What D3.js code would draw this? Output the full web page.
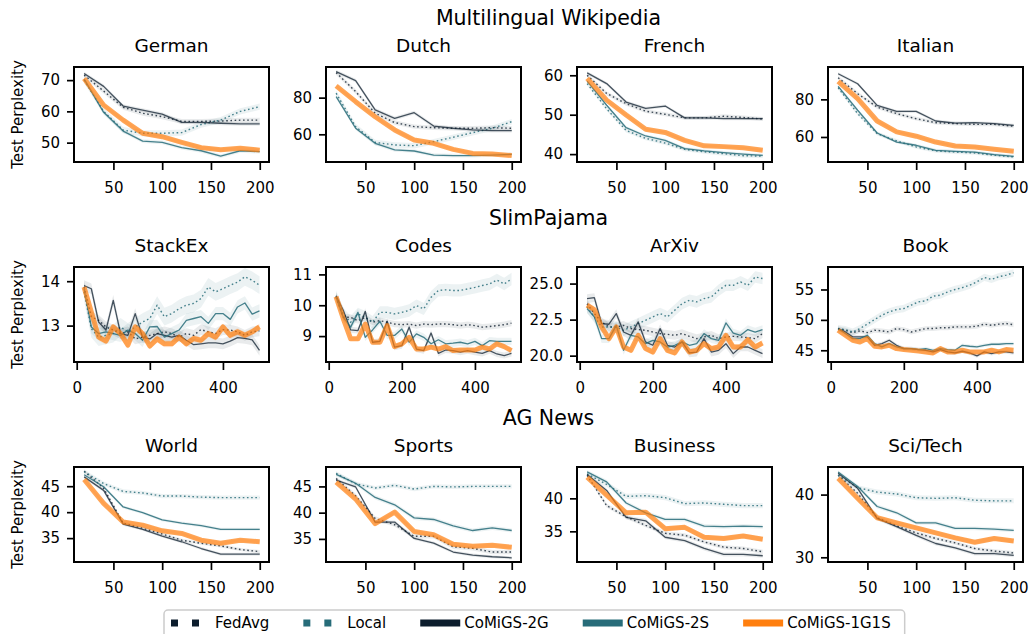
<!DOCTYPE html>
<html>
<head>
<meta charset="utf-8">
<script src="https://cdn.jsdelivr.net/npm/d3@7"></script>
<style>
  body { margin: 0; background: #fff; }
  text { font-family: "DejaVu Sans", sans-serif; fill: #000; }
</style>
</head>
<body>
<svg id="chart"></svg>
<script>
// series order in every panel array: FedAvg, Local, CoMiGS-2G, CoMiGS-2S, CoMiGS-1G1S
const seriesNames = ["FedAvg", "Local", "CoMiGS-2G", "CoMiGS-2S", "CoMiGS-1G1S"]
const rowTitles = ["Multilingual Wikipedia", "SlimPajama", "AG News"]
const panelTitles = ["German", "Dutch", "French", "Italian",
  "StackEx", "Codes", "ArXiv", "Book",
  "World", "Sports", "Business", "Sci/Tech"]

const stepsShort = [20, 40, 60, 80, 100, 120, 140, 160, 180, 200]
const stepsLong = [20, 40, 60, 80, 100, 120, 140, 160, 180, 200, 220, 240, 260,
  280, 300, 320, 340, 360, 380, 400, 420, 440, 460, 480, 500]
const xTicksShort = [50, 100, 150, 200]
const xTicksLong = [0, 200, 400]

const german = [
  [71.6, 66.5, 61.3, 59.4, 58.3, 56.8, 56.8, 56.9, 57.2, 57.2],
  [70.0, 60.0, 54.0, 53.0, 53.0, 53.2, 55.8, 57.2, 60.0, 61.5],
  [72.1, 68.0, 61.7, 60.4, 59.1, 56.5, 56.5, 56.2, 56.0, 56.0],
  [70.3, 59.7, 53.7, 50.5, 50.1, 48.4, 47.4, 45.7, 47.4, 47.1],
  [70.5, 62.0, 57.2, 53.0, 51.9, 50.1, 48.4, 47.7, 48.2, 47.6]
]
const dutch = [
  [93.6, 83.3, 71.5, 66.4, 64.2, 63.6, 63.3, 63.3, 63.6, 63.3],
  [82.4, 64.2, 55.6, 54.2, 53.8, 56.0, 58.4, 60.9, 63.3, 66.9],
  [94.2, 89.3, 73.3, 68.7, 71.8, 64.5, 63.3, 62.4, 62.0, 62.0],
  [80.5, 63.3, 55.1, 51.5, 50.9, 48.7, 48.4, 48.4, 48.7, 49.1],
  [86.4, 77.8, 69.6, 62.4, 56.9, 55.1, 51.8, 49.6, 49.3, 48.4]
]
const french = [
  [60.0, 55.4, 52.8, 50.9, 50.1, 49.2, 49.2, 49.6, 49.3, 48.9],
  [57.9, 51.5, 46.0, 44.0, 42.8, 41.2, 40.6, 40.1, 39.6, 39.5],
  [60.6, 57.9, 53.2, 51.6, 52.2, 49.2, 49.2, 49.0, 49.0, 49.0],
  [58.5, 52.4, 46.7, 44.6, 43.5, 41.4, 40.8, 40.4, 40.0, 39.7],
  [59.2, 53.7, 49.9, 46.3, 45.5, 43.5, 42.1, 41.9, 41.6, 41.0]
]
const italian = [
  [91.5, 83.0, 75.9, 72.4, 69.7, 67.6, 67.1, 66.7, 66.7, 65.7],
  [86.2, 72.4, 61.8, 57.9, 54.7, 52.6, 52.0, 51.5, 50.3, 49.4],
  [93.6, 88.3, 76.8, 73.6, 73.6, 68.5, 67.4, 67.6, 67.1, 66.2],
  [86.9, 74.2, 62.1, 57.3, 55.6, 52.9, 52.4, 52.0, 50.6, 49.7],
  [89.6, 80.4, 68.5, 62.7, 60.4, 57.3, 55.2, 54.7, 53.5, 52.4]
]
const stackEx = [
  [13.87, 13.2, 13.12, 12.97, 12.9, 12.82, 12.86, 12.7, 12.74, 12.78, 12.82, 12.86, 12.82,
    12.74, 12.82, 12.78, 12.91, 12.86, 12.82, 12.91, 12.9, 12.86, 12.78, 12.86, 12.88],
  [13.76, 12.93, 12.74, 12.78, 12.82, 12.97, 12.86, 12.97, 13.08, 13.16, 13.46, 13.2, 13.27,
    13.38, 13.46, 13.5, 13.61, 13.87, 13.76, 13.83, 13.91, 13.98, 14.1, 14.02, 13.91],
  [13.9, 13.83, 13.08, 12.9, 13.57, 12.82, 12.78, 13.27, 12.74, 12.7, 12.82, 12.78, 12.74,
    12.78, 12.67, 12.57, 12.59, 12.61, 12.61, 12.59, 12.65, 12.73, 12.71, 12.68, 12.44],
  [13.83, 12.97, 12.82, 12.86, 12.82, 12.78, 12.9, 12.82, 12.67, 12.97, 12.98, 12.74, 12.82,
    12.9, 13.12, 13.16, 13.2, 13.05, 13.27, 13.27, 13.14, 13.42, 13.51, 13.26, 13.33],
  [13.87, 13.31, 12.74, 12.65, 12.97, 12.82, 12.56, 12.97, 12.82, 12.54, 12.7, 12.59, 12.59,
    12.74, 12.59, 12.71, 12.67, 12.82, 12.74, 12.97, 12.78, 12.86, 12.78, 12.86, 12.97]
]
const codes = [
  [10.26, 9.61, 9.61, 9.5, 9.61, 9.45, 9.5, 9.45, 9.39, 9.37, 9.39, 9.34, 9.39,
    9.37, 9.39, 9.39, 9.37, 9.34, 9.37, 9.34, 9.29, 9.31, 9.34, 9.37, 9.42],
  [10.28, 9.72, 9.45, 9.72, 9.61, 9.45, 9.77, 9.77, 9.72, 9.77, 9.83, 9.99, 9.88,
    10.26, 10.48, 10.5, 10.48, 10.48, 10.53, 10.58, 10.64, 10.69, 10.82, 10.69, 10.85],
  [10.31, 9.83, 9.2, 9.18, 9.8, 8.8, 8.83, 9.48, 8.64, 8.69, 9.29, 8.58, 8.53,
    9.1, 8.44, 8.55, 8.53, 8.48, 8.53, 8.48, 8.44, 8.53, 8.42, 8.37, 8.44],
  [10.28, 9.61, 9.29, 9.77, 8.96, 9.2, 9.48, 9.02, 9.02, 9.23, 8.8, 9.07, 8.96,
    8.75, 8.88, 8.75, 8.77, 8.8, 8.75, 8.83, 8.69, 8.85, 8.83, 8.83, 8.83],
  [10.28, 9.56, 8.91, 8.91, 9.39, 8.8, 8.8, 9.34, 8.66, 8.75, 8.96, 8.58, 8.58,
    8.64, 8.58, 8.66, 8.53, 8.55, 8.55, 8.55, 8.64, 8.58, 8.75, 8.66, 8.53]
]
const arxiv = [
  [23.6, 22.92, 22.34, 21.99, 21.99, 22.1, 21.88, 21.81, 21.76, 21.64, 21.53, 21.48, 21.41,
    21.53, 21.34, 21.18, 21.3, 21.41, 21.18, 21.3, 21.34, 21.3, 21.25, 21.18, 21.53],
  [23.38, 22.69, 21.99, 21.99, 21.99, 21.76, 21.99, 22.22, 22.45, 22.69, 22.92, 22.69, 23.15,
    23.61, 23.84, 23.73, 23.96, 24.07, 24.54, 24.88, 24.88, 25.12, 24.88, 25.46, 25.35],
  [23.96, 24.03, 22.22, 22.18, 22.92, 21.64, 21.41, 22.34, 20.95, 20.72, 21.88, 20.72, 20.6,
    20.95, 20.19, 20.25, 21.18, 20.25, 20.37, 20.83, 20.14, 20.6, 20.6, 20.37, 20.14],
  [23.26, 22.69, 21.18, 21.18, 22.1, 20.37, 21.41, 21.3, 20.83, 21.06, 20.95, 20.6, 20.72,
    20.95, 20.72, 20.83, 21.53, 21.18, 21.06, 22.27, 21.57, 21.41, 21.81, 21.64, 21.81],
  [23.5, 23.2, 21.99, 21.18, 21.99, 20.6, 20.37, 21.41, 20.49, 20.25, 21.18, 20.37, 20.19,
    20.95, 20.25, 20.37, 20.83, 20.49, 20.6, 21.41, 20.6, 20.6, 21.11, 20.6, 20.88]
]
const book = [
  [48.57, 48.3, 47.9, 48.2, 47.9, 48.3, 48.2, 48.0, 48.57, 48.4, 48.0, 48.3, 48.57,
    48.57, 48.7, 48.7, 48.85, 48.85, 48.85, 48.96, 49.3, 49.1, 49.3, 49.4, 49.2],
  [48.57, 48.4, 48.0, 48.57, 49.3, 50.05, 50.77, 51.32, 51.7, 51.87, 52.42, 52.97, 53.13,
    53.9, 54.07, 54.6, 55.0, 55.3, 55.7, 56.26, 56.98, 56.65, 57.1, 57.36, 57.75],
  [48.57, 48.02, 47.2, 47.2, 47.2, 45.82, 46.1, 46.65, 45.82, 45.27, 45.27, 45.11, 45.0,
    44.73, 45.11, 44.73, 44.56, 44.84, 44.56, 44.07, 44.73, 44.45, 44.73, 44.73, 44.56],
  [48.57, 47.75, 46.92, 46.92, 47.47, 46.1, 45.55, 46.1, 45.55, 45.27, 45.27, 45.11, 45.27,
    45.0, 45.27, 45.11, 45.0, 45.82, 45.66, 45.55, 45.82, 45.99, 45.99, 46.1, 46.1],
  [48.3, 47.47, 46.65, 46.37, 46.92, 45.66, 45.55, 45.82, 45.27, 45.11, 45.0, 44.89, 44.73,
    44.56, 45.27, 44.73, 44.73, 45.0, 44.73, 44.73, 44.73, 45.0, 44.73, 45.11, 45.0]
]
const world = [
  [47.9, 44.6, 37.9, 36.9, 35.8, 34.6, 34.0, 33.5, 32.8, 32.4],
  [47.8, 45.5, 44.0, 43.7, 43.1, 43.1, 42.9, 42.8, 42.8, 42.8],
  [46.8, 44.2, 37.7, 36.7, 35.4, 34.3, 33.0, 31.9, 31.9, 31.9],
  [47.2, 44.9, 41.0, 39.9, 38.5, 37.9, 37.4, 36.7, 36.7, 36.7],
  [46.3, 41.7, 38.1, 37.5, 36.4, 35.9, 34.6, 34.0, 34.6, 34.3]
]
const sports = [
  [46.5, 43.2, 38.9, 37.7, 35.5, 35.5, 33.5, 33.2, 32.5, 32.5],
  [47.5, 45.5, 44.7, 45.2, 44.5, 45.0, 44.9, 45.0, 45.0, 45.0],
  [46.2, 44.9, 38.2, 38.2, 35.1, 34.2, 32.5, 31.9, 31.6, 31.4],
  [47.3, 45.6, 42.9, 41.5, 39.0, 38.7, 37.5, 36.6, 37.1, 36.6],
  [45.8, 42.6, 37.9, 40.1, 36.4, 35.8, 34.0, 33.6, 33.8, 33.4]
]
const business = [
  [43.5, 38.9, 37.2, 35.9, 34.7, 34.4, 33.4, 32.6, 32.4, 31.9],
  [43.7, 42.1, 40.3, 40.4, 40.1, 39.2, 39.3, 39.1, 38.9, 38.9],
  [43.6, 41.2, 37.1, 36.6, 34.1, 33.6, 32.4, 31.5, 31.5, 31.3],
  [44.0, 42.5, 39.3, 37.8, 36.8, 36.8, 35.8, 35.7, 35.8, 35.7],
  [43.2, 40.5, 37.8, 37.9, 35.4, 35.6, 34.1, 33.9, 34.3, 33.8]
]
const sciTech = [
  [43.1, 40.2, 36.3, 35.0, 33.9, 33.0, 32.3, 31.4, 31.0, 30.7],
  [43.1, 41.1, 40.4, 40.1, 39.5, 39.4, 39.5, 39.1, 39.0, 39.0],
  [43.4, 41.0, 36.2, 34.9, 33.5, 32.2, 31.5, 30.6, 30.6, 30.3],
  [43.6, 41.3, 38.1, 37.1, 35.5, 35.5, 34.6, 34.6, 34.5, 34.3],
  [42.6, 39.4, 36.3, 35.5, 34.7, 33.9, 33.1, 32.4, 33.0, 32.6]
]

// half-width of the shaded band, one value per series, per panel
const bandWidths = [
  [0.8, 1.0, 0.6, 0.6, 0.5], [1.2, 1.5, 1.0, 1.0, 0.8], [0.5, 0.5, 0.4, 0.4, 0.3], [1.0, 1.0, 0.8, 0.8, 0.6],
  [0.12, 0.2, 0.12, 0.15, 0.08], [0.1, 0.2, 0.1, 0.12, 0.06], [0.3, 0.4, 0.3, 0.3, 0.2], [0.4, 0.6, 0.3, 0.3, 0.3],
  [0.3, 0.4, 0.3, 0.3, 0.3], [0.4, 0.4, 0.3, 0.4, 0.3], [0.3, 0.4, 0.3, 0.3, 0.3], [0.3, 0.4, 0.3, 0.3, 0.3]
]
const yDomains = [
  [43.8, 74.2], [44.9, 96.7], [38, 62.1], [46.7, 97.2],
  [12.18, 14.32], [8.16, 11.24], [19.56, 26.15], [43.07, 58.7],
  [30.4, 48.7], [30.6, 48.7], [30.35, 44.75], [29.25, 44.4]
]
const yTicks = [
  [50, 60, 70], [60, 80], [40, 50, 60], [60, 80],
  [13, 14], [9, 10, 11], [20, 22.5, 25], [45, 50, 55],
  [35, 40, 45], [35, 40, 45], [35, 40], [30, 40]
]
const panelData = [german, dutch, french, italian, stackEx, codes, arxiv, book,
  world, sports, business, sciTech]

// styling
const colors = ["#0c1d2d", "#276c79", "#0c1d2d", "#276c79", "#ff7f0e"]
const dashes = ["1.6,2.6", "1.6,2.6", null, null, null]
const widths = [1.4, 1.4, 1.3, 1.3, 5]
const lineOpacity = [0.8, 0.85, 0.75, 0.85, 0.7]

const W = 1032, H = 634
const lefts = [74, 326, 577, 828], tops = [67, 267, 467]
const pw = 195, ph = 95
const xDomainShort = [9.6, 209.5], xDomainLong = [-7.4, 526]

const svg = d3.select("#chart").attr("width", W).attr("height", H)

rowTitles.forEach((t, r) => {
  svg.append("text")
    .attr("x", (lefts[0] + lefts[3] + pw) / 2)
    .attr("y", tops[r] - 42)
    .attr("text-anchor", "middle")
    .style("font-size", "20.5px")
    .text(t)
})

panelData.forEach((series, i) => {
  const row = Math.floor(i / 4), col = i % 4
  const steps = row === 1 ? stepsLong : stepsShort
  const g = svg.append("g").attr("transform", "translate(" + lefts[col] + "," + tops[row] + ")")

  const x = d3.scaleLinear().domain(row === 1 ? xDomainLong : xDomainShort).range([0, pw])
  const y = d3.scaleLinear().domain(yDomains[i]).range([ph, 0])

  g.append("clipPath").attr("id", "clip" + i)
    .append("rect").attr("width", pw).attr("height", ph)
  const plot = g.append("g").attr("clip-path", "url(#clip" + i + ")")

  // shaded bands first
  series.forEach((vals, s) => {
    const bw = bandWidths[i][s]
    const area = d3.area()
      .x((d, k) => x(steps[k]))
      .y0(d => y(d - bw))
      .y1(d => y(d + bw))
    plot.append("path")
      .attr("d", area(vals))
      .attr("fill", colors[s])
      .attr("fill-opacity", s === 4 ? 0.12 : 0.09)
  })

  const line = d3.line().x((d, k) => x(steps[k])).y(d => y(d))
  series.forEach((vals, s) => {
    plot.append("path")
      .attr("d", line(vals))
      .attr("fill", "none")
      .attr("stroke", colors[s])
      .attr("stroke-width", widths[s])
      .attr("stroke-opacity", lineOpacity[s])
      .attr("stroke-dasharray", dashes[s])
      .attr("stroke-linejoin", "round")
  })

  // axes
  const gx = g.append("g").attr("transform", "translate(0," + ph + ")")
    .call(d3.axisBottom(x).tickValues(row === 1 ? xTicksLong : xTicksShort)
      .tickSize(8).tickPadding(12).tickSizeOuter(0))
  const gy = g.append("g")
    .call(d3.axisLeft(y).tickValues(yTicks[i])
      .tickFormat(i === 6 ? d3.format(".1f") : d3.format("d"))
      .tickSize(7).tickPadding(7).tickSizeOuter(0))
  for (const a of [gx, gy]) {
    a.select(".domain").remove()
    a.selectAll("line").attr("stroke", "#000").attr("stroke-width", 1.7)
    a.selectAll("text").style("font-size", "15px").attr("fill", "#000")
  }

  g.append("rect")
    .attr("width", pw).attr("height", ph)
    .attr("fill", "none").attr("stroke", "#000").attr("stroke-width", 2)

  g.append("text")
    .attr("x", pw / 2).attr("y", -15)
    .attr("text-anchor", "middle")
    .style("font-size", "18.5px")
    .text(panelTitles[i])

  if (col === 0) {
    g.append("text")
      .attr("transform", "translate(" + (18 - lefts[0]) + "," + ph / 2 + ") rotate(-90)")
      .attr("text-anchor", "middle")
      .attr("dy", "0.35em")
      .style("font-size", "15px")
      .text("Test Perplexity")
  }
})

// legend along the bottom, cut by the page edge like the original
const legend = svg.append("g")
const legendBox = legend.append("rect")
  .attr("y", 610).attr("height", 40).attr("rx", 4)
  .attr("fill", "#fff").attr("stroke", "#cccccc").attr("stroke-width", 1.5)
let lx = 171
const ly = 623
seriesNames.forEach((name, s) => {
  legend.append("line")
    .attr("x1", lx).attr("x2", lx + 40)
    .attr("y1", ly).attr("y2", ly)
    .attr("stroke", colors[s])
    .attr("stroke-width", 7)
    .attr("stroke-dasharray", s < 2 ? "7,14" : null)
  const t = legend.append("text")
    .attr("x", lx + 44).attr("y", ly).attr("dy", "0.35em")
    .style("font-size", "15px")
    .text(name)
  lx += 44 + t.node().getComputedTextLength() + 34
})
legendBox.attr("x", 164).attr("width", lx - 34 + 14 - 164)
</script>
</body>
</html>
